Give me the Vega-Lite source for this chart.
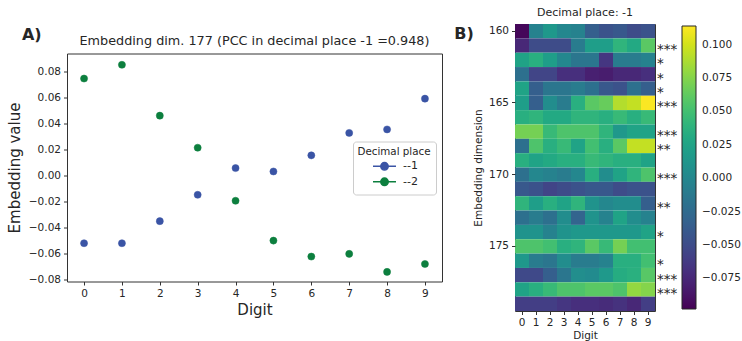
{
  "$schema": "https://vega.github.io/schema/vega-lite/v6.json",
  "padding": {"left": 6, "top": 6, "right": 2, "bottom": 0},
  "bounds": "flush",
  "center": true,
  "spacing": 73,
  "resolve": {"scale": {"fill": "independent", "stroke": "independent", "color": "independent"}, "legend": {"fill": "independent", "stroke": "independent", "color": "independent"}},
  "config": {
    "font": "DejaVu Sans",
    "view": {"stroke": "#333333", "strokeWidth": 1},
    "axis": {"domain": false, "grid": false, "tickColor": "#333333", "tickSize": 3.5, "labelColor": "#262626", "titleColor": "#262626", "titleFontWeight": "normal", "labelFontSize": 10.5, "labelPadding": 3, "labelOverlap": false},
    "title": {"fontWeight": "normal", "color": "#262626"},
    "legend": {"labelColor": "#262626", "titleColor": "#262626"}
  },
  "datasets": {
    "scatter": [
      {"digit": 0, "place": "--1", "value": -0.052},
      {"digit": 1, "place": "--1", "value": -0.052},
      {"digit": 2, "place": "--1", "value": -0.035},
      {"digit": 3, "place": "--1", "value": -0.0147},
      {"digit": 4, "place": "--1", "value": 0.0059},
      {"digit": 5, "place": "--1", "value": 0.0033},
      {"digit": 6, "place": "--1", "value": 0.0157},
      {"digit": 7, "place": "--1", "value": 0.033},
      {"digit": 8, "place": "--1", "value": 0.0357},
      {"digit": 9, "place": "--1", "value": 0.0594},
      {"digit": 0, "place": "--2", "value": 0.0749},
      {"digit": 1, "place": "--2", "value": 0.0855},
      {"digit": 2, "place": "--2", "value": 0.0463},
      {"digit": 3, "place": "--2", "value": 0.0216},
      {"digit": 4, "place": "--2", "value": -0.0193},
      {"digit": 5, "place": "--2", "value": -0.05},
      {"digit": 6, "place": "--2", "value": -0.0623},
      {"digit": 7, "place": "--2", "value": -0.0602},
      {"digit": 8, "place": "--2", "value": -0.0741},
      {"digit": 9, "place": "--2", "value": -0.068}
    ],
    "stars": [
      {"dim": 161, "sig": "***"},
      {"dim": 162, "sig": "*"},
      {"dim": 163, "sig": "*"},
      {"dim": 164, "sig": "*"},
      {"dim": 165, "sig": "***"},
      {"dim": 167, "sig": "***"},
      {"dim": 168, "sig": "**"},
      {"dim": 170, "sig": "***"},
      {"dim": 172, "sig": "**"},
      {"dim": 174, "sig": "*"},
      {"dim": 176, "sig": "*"},
      {"dim": 177, "sig": "***"},
      {"dim": 178, "sig": "***"}
    ],
    "heat": [
      {"dim": 160, "digit": 0, "value": -0.095}, {"dim": 160, "digit": 1, "value": -0.005}, {"dim": 160, "digit": 2, "value": 0.015}, {"dim": 160, "digit": 3, "value": 0.0}, {"dim": 160, "digit": 4, "value": -0.005}, {"dim": 160, "digit": 5, "value": -0.035}, {"dim": 160, "digit": 6, "value": -0.045}, {"dim": 160, "digit": 7, "value": -0.04}, {"dim": 160, "digit": 8, "value": -0.05}, {"dim": 160, "digit": 9, "value": -0.045},
      {"dim": 161, "digit": 0, "value": -0.075}, {"dim": 161, "digit": 1, "value": -0.05}, {"dim": 161, "digit": 2, "value": -0.05}, {"dim": 161, "digit": 3, "value": -0.05}, {"dim": 161, "digit": 4, "value": -0.01}, {"dim": 161, "digit": 5, "value": 0.02}, {"dim": 161, "digit": 6, "value": 0.02}, {"dim": 161, "digit": 7, "value": 0.04}, {"dim": 161, "digit": 8, "value": 0.03}, {"dim": 161, "digit": 9, "value": 0.06},
      {"dim": 162, "digit": 0, "value": 0.025}, {"dim": 162, "digit": 1, "value": 0.035}, {"dim": 162, "digit": 2, "value": 0.02}, {"dim": 162, "digit": 3, "value": 0.0}, {"dim": 162, "digit": 4, "value": -0.015}, {"dim": 162, "digit": 5, "value": -0.015}, {"dim": 162, "digit": 6, "value": -0.065}, {"dim": 162, "digit": 7, "value": -0.01}, {"dim": 162, "digit": 8, "value": -0.01}, {"dim": 162, "digit": 9, "value": -0.005},
      {"dim": 163, "digit": 0, "value": -0.02}, {"dim": 163, "digit": 1, "value": -0.055}, {"dim": 163, "digit": 2, "value": -0.055}, {"dim": 163, "digit": 3, "value": -0.07}, {"dim": 163, "digit": 4, "value": -0.07}, {"dim": 163, "digit": 5, "value": -0.08}, {"dim": 163, "digit": 6, "value": -0.082}, {"dim": 163, "digit": 7, "value": -0.075}, {"dim": 163, "digit": 8, "value": -0.075}, {"dim": 163, "digit": 9, "value": -0.07},
      {"dim": 164, "digit": 0, "value": 0.025}, {"dim": 164, "digit": 1, "value": -0.035}, {"dim": 164, "digit": 2, "value": -0.015}, {"dim": 164, "digit": 3, "value": -0.015}, {"dim": 164, "digit": 4, "value": -0.01}, {"dim": 164, "digit": 5, "value": -0.02}, {"dim": 164, "digit": 6, "value": -0.04}, {"dim": 164, "digit": 7, "value": -0.045}, {"dim": 164, "digit": 8, "value": -0.02}, {"dim": 164, "digit": 9, "value": -0.035},
      {"dim": 165, "digit": 0, "value": 0.02}, {"dim": 165, "digit": 1, "value": -0.035}, {"dim": 165, "digit": 2, "value": 0.005}, {"dim": 165, "digit": 3, "value": -0.01}, {"dim": 165, "digit": 4, "value": 0.035}, {"dim": 165, "digit": 5, "value": 0.06}, {"dim": 165, "digit": 6, "value": 0.065}, {"dim": 165, "digit": 7, "value": 0.09}, {"dim": 165, "digit": 8, "value": 0.095}, {"dim": 165, "digit": 9, "value": 0.113},
      {"dim": 166, "digit": 0, "value": 0.035}, {"dim": 166, "digit": 1, "value": 0.04}, {"dim": 166, "digit": 2, "value": 0.03}, {"dim": 166, "digit": 3, "value": 0.03}, {"dim": 166, "digit": 4, "value": 0.04}, {"dim": 166, "digit": 5, "value": 0.04}, {"dim": 166, "digit": 6, "value": 0.035}, {"dim": 166, "digit": 7, "value": 0.045}, {"dim": 166, "digit": 8, "value": 0.035}, {"dim": 166, "digit": 9, "value": 0.045},
      {"dim": 167, "digit": 0, "value": 0.07}, {"dim": 167, "digit": 1, "value": 0.07}, {"dim": 167, "digit": 2, "value": 0.045}, {"dim": 167, "digit": 3, "value": 0.055}, {"dim": 167, "digit": 4, "value": 0.055}, {"dim": 167, "digit": 5, "value": 0.055}, {"dim": 167, "digit": 6, "value": 0.04}, {"dim": 167, "digit": 7, "value": 0.015}, {"dim": 167, "digit": 8, "value": 0.025}, {"dim": 167, "digit": 9, "value": 0.025},
      {"dim": 168, "digit": 0, "value": -0.02}, {"dim": 168, "digit": 1, "value": 0.055}, {"dim": 168, "digit": 2, "value": 0.035}, {"dim": 168, "digit": 3, "value": 0.045}, {"dim": 168, "digit": 4, "value": 0.025}, {"dim": 168, "digit": 5, "value": 0.05}, {"dim": 168, "digit": 6, "value": 0.035}, {"dim": 168, "digit": 7, "value": 0.06}, {"dim": 168, "digit": 8, "value": 0.095}, {"dim": 168, "digit": 9, "value": 0.095},
      {"dim": 169, "digit": 0, "value": 0.035}, {"dim": 169, "digit": 1, "value": 0.025}, {"dim": 169, "digit": 2, "value": 0.03}, {"dim": 169, "digit": 3, "value": 0.035}, {"dim": 169, "digit": 4, "value": 0.035}, {"dim": 169, "digit": 5, "value": 0.045}, {"dim": 169, "digit": 6, "value": 0.04}, {"dim": 169, "digit": 7, "value": 0.035}, {"dim": 169, "digit": 8, "value": 0.035}, {"dim": 169, "digit": 9, "value": 0.025},
      {"dim": 170, "digit": 0, "value": -0.02}, {"dim": 170, "digit": 1, "value": 0.0}, {"dim": 170, "digit": 2, "value": -0.005}, {"dim": 170, "digit": 3, "value": -0.01}, {"dim": 170, "digit": 4, "value": 0.0}, {"dim": 170, "digit": 5, "value": 0.035}, {"dim": 170, "digit": 6, "value": 0.005}, {"dim": 170, "digit": 7, "value": 0.025}, {"dim": 170, "digit": 8, "value": 0.04}, {"dim": 170, "digit": 9, "value": 0.055},
      {"dim": 171, "digit": 0, "value": -0.04}, {"dim": 171, "digit": 1, "value": -0.045}, {"dim": 171, "digit": 2, "value": -0.055}, {"dim": 171, "digit": 3, "value": -0.05}, {"dim": 171, "digit": 4, "value": -0.045}, {"dim": 171, "digit": 5, "value": -0.04}, {"dim": 171, "digit": 6, "value": -0.04}, {"dim": 171, "digit": 7, "value": -0.05}, {"dim": 171, "digit": 8, "value": -0.045}, {"dim": 171, "digit": 9, "value": -0.045},
      {"dim": 172, "digit": 0, "value": 0.04}, {"dim": 172, "digit": 1, "value": 0.02}, {"dim": 172, "digit": 2, "value": 0.035}, {"dim": 172, "digit": 3, "value": 0.025}, {"dim": 172, "digit": 4, "value": 0.04}, {"dim": 172, "digit": 5, "value": 0.01}, {"dim": 172, "digit": 6, "value": 0.0}, {"dim": 172, "digit": 7, "value": 0.005}, {"dim": 172, "digit": 8, "value": 0.005}, {"dim": 172, "digit": 9, "value": -0.035},
      {"dim": 173, "digit": 0, "value": -0.02}, {"dim": 173, "digit": 1, "value": -0.01}, {"dim": 173, "digit": 2, "value": -0.02}, {"dim": 173, "digit": 3, "value": 0.005}, {"dim": 173, "digit": 4, "value": -0.03}, {"dim": 173, "digit": 5, "value": 0.01}, {"dim": 173, "digit": 6, "value": -0.005}, {"dim": 173, "digit": 7, "value": 0.025}, {"dim": 173, "digit": 8, "value": 0.005}, {"dim": 173, "digit": 9, "value": -0.005},
      {"dim": 174, "digit": 0, "value": 0.01}, {"dim": 174, "digit": 1, "value": 0.01}, {"dim": 174, "digit": 2, "value": -0.005}, {"dim": 174, "digit": 3, "value": 0.01}, {"dim": 174, "digit": 4, "value": 0.015}, {"dim": 174, "digit": 5, "value": 0.015}, {"dim": 174, "digit": 6, "value": 0.015}, {"dim": 174, "digit": 7, "value": 0.015}, {"dim": 174, "digit": 8, "value": 0.015}, {"dim": 174, "digit": 9, "value": 0.025},
      {"dim": 175, "digit": 0, "value": 0.055}, {"dim": 175, "digit": 1, "value": 0.055}, {"dim": 175, "digit": 2, "value": 0.05}, {"dim": 175, "digit": 3, "value": 0.035}, {"dim": 175, "digit": 4, "value": 0.04}, {"dim": 175, "digit": 5, "value": 0.06}, {"dim": 175, "digit": 6, "value": 0.045}, {"dim": 175, "digit": 7, "value": 0.07}, {"dim": 175, "digit": 8, "value": 0.05}, {"dim": 175, "digit": 9, "value": 0.05},
      {"dim": 176, "digit": 0, "value": 0.015}, {"dim": 176, "digit": 1, "value": -0.01}, {"dim": 176, "digit": 2, "value": -0.015}, {"dim": 176, "digit": 3, "value": 0.005}, {"dim": 176, "digit": 4, "value": -0.01}, {"dim": 176, "digit": 5, "value": -0.01}, {"dim": 176, "digit": 6, "value": -0.005}, {"dim": 176, "digit": 7, "value": 0.035}, {"dim": 176, "digit": 8, "value": 0.035}, {"dim": 176, "digit": 9, "value": 0.05},
      {"dim": 177, "digit": 0, "value": -0.052}, {"dim": 177, "digit": 1, "value": -0.052}, {"dim": 177, "digit": 2, "value": -0.035}, {"dim": 177, "digit": 3, "value": -0.015}, {"dim": 177, "digit": 4, "value": 0.006}, {"dim": 177, "digit": 5, "value": 0.003}, {"dim": 177, "digit": 6, "value": 0.016}, {"dim": 177, "digit": 7, "value": 0.033}, {"dim": 177, "digit": 8, "value": 0.036}, {"dim": 177, "digit": 9, "value": 0.059},
      {"dim": 178, "digit": 0, "value": 0.025}, {"dim": 178, "digit": 1, "value": 0.035}, {"dim": 178, "digit": 2, "value": 0.045}, {"dim": 178, "digit": 3, "value": 0.055}, {"dim": 178, "digit": 4, "value": 0.055}, {"dim": 178, "digit": 5, "value": 0.06}, {"dim": 178, "digit": 6, "value": 0.06}, {"dim": 178, "digit": 7, "value": 0.055}, {"dim": 178, "digit": 8, "value": 0.08}, {"dim": 178, "digit": 9, "value": 0.075},
      {"dim": 179, "digit": 0, "value": -0.06}, {"dim": 179, "digit": 1, "value": -0.06}, {"dim": 179, "digit": 2, "value": -0.06}, {"dim": 179, "digit": 3, "value": -0.065}, {"dim": 179, "digit": 4, "value": -0.07}, {"dim": 179, "digit": 5, "value": -0.07}, {"dim": 179, "digit": 6, "value": -0.072}, {"dim": 179, "digit": 7, "value": -0.068}, {"dim": 179, "digit": 8, "value": -0.075}, {"dim": 179, "digit": 9, "value": -0.06}
    ]
  },
  "hconcat": [
    {
      "width": 375,
      "height": 228,
      "title": {"text": "Embedding dim. 177 (PCC in decimal place -1 =0.948)", "fontSize": 12.8, "offset": 4, "dy": 25},
      "layer": [
        {
          "data": {"name": "scatter"},
          "mark": {"type": "point", "filled": true, "size": 50, "opacity": 1, "strokeWidth": 0.5},
          "encoding": {
            "x": {"field": "digit", "type": "quantitative", "scale": {"domain": [-0.45, 9.45], "nice": false, "zero": false}, "axis": {"values": [0, 1, 2, 3, 4, 5, 6, 7, 8, 9], "format": "d", "title": "Digit", "titleFontSize": 15, "titlePadding": 4, "labelOverlap": false}},
            "y": {"field": "value", "type": "quantitative", "scale": {"domain": [-0.0815, 0.0942], "nice": false, "zero": false}, "axis": {"values": [-0.08, -0.06, -0.04, -0.02, 0, 0.02, 0.04, 0.06, 0.08], "format": ".2f", "title": "Embedding value", "titleFontSize": 15, "titlePadding": 6, "labelOverlap": false}},
            "fill": {"field": "place", "type": "nominal", "scale": {"domain": ["--1", "--2"], "range": ["#3a54a5", "#0c7f3e"]}, "legend": {"title": "Decimal place", "orient": "none", "legendX": 286, "legendY": 88, "titleFontSize": 10.3, "titleFontWeight": "normal", "titleAnchor": "middle", "titlePadding": 3, "labelFontSize": 11, "fillColor": "white", "strokeColor": "#cccccc", "cornerRadius": 3, "padding": 5, "symbolType": "M-2,0H2M-0.65,0A0.65,0.65,0,1,1,0.65,0A0.65,0.65,0,1,1,-0.65,0Z", "symbolSize": 132, "symbolStrokeWidth": 1.5, "labelOffset": 12, "symbolOffset": 8, "rowPadding": 0.5}},
            "stroke": {"field": "place", "type": "nominal", "scale": {"domain": ["--1", "--2"], "range": ["#3a54a5", "#0c7f3e"]}, "legend": {"title": "Decimal place", "orient": "none", "legendX": 286, "legendY": 88, "titleFontSize": 10.3, "titleFontWeight": "normal", "titleAnchor": "middle", "titlePadding": 3, "labelFontSize": 11, "fillColor": "white", "strokeColor": "#cccccc", "cornerRadius": 3, "padding": 5, "symbolType": "M-2,0H2M-0.65,0A0.65,0.65,0,1,1,0.65,0A0.65,0.65,0,1,1,-0.65,0Z", "symbolSize": 132, "symbolStrokeWidth": 1.5, "labelOffset": 12, "symbolOffset": 8, "rowPadding": 0.5}}
          }
        },
        {
          "data": {"values": [{}]},
          "mark": {"type": "text", "text": "A)", "fontSize": 16, "fontWeight": "bold", "color": "#262626"},
          "encoding": {
            "x": {"datum": -1.38, "type": "quantitative", "axis": {"values": [0, 1, 2, 3, 4, 5, 6, 7, 8, 9], "format": "d", "title": "Digit", "titleFontSize": 15, "titlePadding": 4, "labelOverlap": false}},
            "y": {"datum": 0.1085, "type": "quantitative", "axis": {"values": [-0.08, -0.06, -0.04, -0.02, 0, 0.02, 0.04, 0.06, 0.08], "format": ".2f", "title": "Embedding value", "titleFontSize": 15, "titlePadding": 6, "labelOverlap": false}}
          }
        }
      ]
    },
    {
      "width": 140,
      "height": 287,
      "title": {"text": "Decimal place: -1", "fontSize": 11, "offset": 6},
      "layer": [
        {
          "data": {"name": "heat"},
          "mark": {"type": "rect"},
          "encoding": {
            "x": {"field": "digit", "type": "ordinal", "scale": {"paddingInner": 0, "paddingOuter": 0}, "axis": {"title": "Digit", "labelAngle": 0, "titleFontSize": 10.5, "titlePadding": 2}},
            "y": {"field": "dim", "type": "ordinal", "scale": {"paddingInner": 0, "paddingOuter": 0}, "axis": {"title": "Embedding dimension", "values": [160, 165, 170, 175], "titleFontSize": 10.5, "titlePadding": 5}},
            "color": {"field": "value", "type": "quantitative", "scale": {"scheme": "viridis", "domain": [-0.098, 0.114], "nice": false}, "legend": {"title": null, "orient": "none", "legendX": 167, "legendY": 2, "direction": "vertical", "gradientLength": 283, "gradientThickness": 14, "values": [-0.075, -0.05, -0.025, 0, 0.025, 0.05, 0.075, 0.1], "format": ".3f", "labelFontSize": 10.5, "labelOffset": 6, "labelOverlap": false, "gradientStrokeColor": "#262626", "gradientStrokeWidth": 1, "padding": 0}}
          }
        },
        {
          "data": {"name": "stars"},
          "mark": {"type": "text", "align": "left", "baseline": "middle", "fontSize": 13.5, "dx": 9, "dy": 4.5, "color": "#262626"},
          "encoding": {"x": {"datum": 9, "type": "ordinal"}, "y": {"field": "dim", "type": "ordinal"}, "text": {"field": "sig"}}
        },
        {
          "data": {"values": [{}]},
          "mark": {"type": "text", "text": "B)", "fontSize": 16, "fontWeight": "bold", "color": "#262626", "dx": -58, "dy": 3},
          "encoding": {"x": {"datum": 0, "type": "ordinal"}, "y": {"datum": 160, "type": "ordinal"}}
        }
      ]
    }
  ]
}
